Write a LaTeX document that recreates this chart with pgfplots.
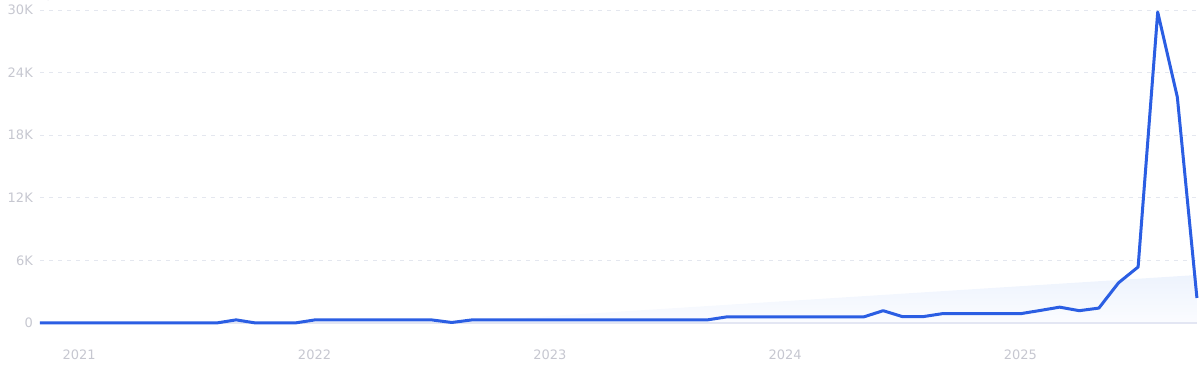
\documentclass[border=0pt]{standalone}
\usepackage{fontspec}
\setmainfont{DejaVu Sans}
\usepackage{pgfplots}
\pgfplotsset{compat=1.18}
\definecolor{linec}{HTML}{2B5EE3}
\definecolor{labelc}{HTML}{C6C7D0}
\definecolor{gridc}{HTML}{E4E7EF}
\definecolor{basec}{HTML}{E3E6F3}
\definecolor{trendtop}{HTML}{EDF3FD}
\definecolor{trendbot}{HTML}{FBFCFF}
\begin{document}
\begin{tikzpicture}
\begin{axis}[
  scale only axis, width=1157pt, height=313pt,
  xmin=-2, xmax=57, ymin=0, ymax=30000,
  axis line style={draw=none},
  major tick length=0pt,
  ytick={0,6000,12000,18000,24000,30000},
  yticklabels={0,6K,12K,18K,24K,30K},
  xtick={0,12,24,36,48},
  xticklabels={2021,2022,2023,2024,2025},
  ymajorgrids,
  grid style={dash pattern=on 4pt off 5pt, color=gridc, line width=1pt},
  ticklabel style={font=\fontsize{13}{15}\selectfont, text=labelc, text height=9.3pt, text depth=0pt},
  yticklabel style={anchor=east, inner sep=0pt, xshift=-7pt},
  xticklabel style={anchor=center, inner sep=0pt, yshift=-32pt},
  clip=false,
]
\addplot[draw=none, shading=axis, top color=trendtop, bottom color=trendbot] coordinates {(18.4,0) (57,4600) (57,0)} -- cycle;
\addplot[color=basec, line width=1.5pt] coordinates {(-2,0) (57,0)};
\addplot[color=linec, line width=3pt, line join=round] coordinates {
(-2,0) (-1,0) (0,0) (1,0) (2,0) (3,0) (4,0) (5,0) (6,0) (7,0)
(8,300) (9,0) (10,0) (11,0)
(12,290) (13,290) (14,290) (15,290) (16,290) (17,290) (18,290)
(19,50)
(20,290) (21,290) (22,290) (23,290) (24,290) (25,290) (26,290) (27,290) (28,290) (29,290) (30,290) (31,290) (32,290)
(33,580) (34,580) (35,580) (36,580) (37,580) (38,580) (39,580) (40,580)
(41,1180) (42,600) (43,600)
(44,890) (45,890) (46,890) (47,890) (48,890)
(49,1200) (50,1520) (51,1180) (52,1430)
(53,3850) (54,5370) (55,29800) (56,21650) (57,2400)
};
\end{axis}
\pgfresetboundingbox
\path (current axis.south west) ++(-40pt,-49pt) rectangle ++(1200pt,372pt);
\end{tikzpicture}
\end{document}
